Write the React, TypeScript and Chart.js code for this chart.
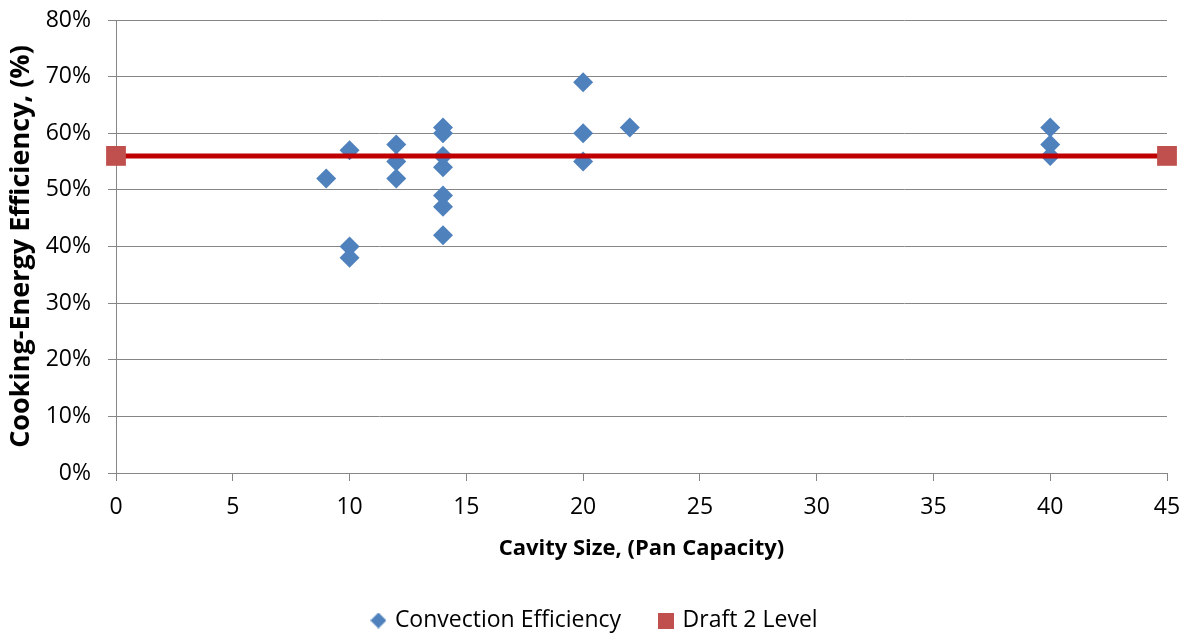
import React, { useEffect, useRef } from "react";
import { Chart, registerables } from "chart.js";

Chart.register(...registerables);

const cavitySizes = [9, 10, 10, 10, 12, 12, 12, 14, 14, 14, 14, 14, 14, 14, 20, 20, 20, 22, 40, 40, 40];
const efficiencies = [0.52, 0.57, 0.40, 0.38, 0.58, 0.55, 0.52, 0.61, 0.60, 0.56, 0.54, 0.49, 0.47, 0.42, 0.69, 0.60, 0.55, 0.61, 0.61, 0.58, 0.56];
const draftX = [0, 45];
const draftLevel = [0.56, 0.56];
const seriesNames = ["Convection Efficiency", "Draft 2 Level"];
const xTitle = "Cavity Size, (Pan Capacity)";
const yTitle = "Cooking-Energy Efficiency, (%)";

const FONT = "'Open Sans', Lato, sans-serif";

function makeIcon(kind: "diamond" | "square", color: string): HTMLCanvasElement {
  const c = document.createElement("canvas");
  c.width = 16;
  c.height = 16;
  const ctx = c.getContext("2d")!;
  ctx.fillStyle = color;
  ctx.beginPath();
  if (kind === "diamond") {
    ctx.moveTo(8, 0);
    ctx.lineTo(16, 8);
    ctx.lineTo(8, 16);
    ctx.lineTo(0, 8);
    ctx.closePath();
  } else {
    ctx.rect(0, 0, 16, 16);
  }
  ctx.fill();
  return c;
}

const legendShift = {
  id: "legendShift",
  afterLayout(chart: any) {
    const l = chart.legend;
    if (l) {
      l.left += 12;
      l.right += 12;
    }
  },
};

export default function App() {
  const ref = useRef<HTMLCanvasElement | null>(null);
  useEffect(() => {
    document.body.style.margin = "0";
    const canvas = ref.current;
    if (!canvas) return;
    const icons = [makeIcon("diamond", "#4F81BD"), makeIcon("square", "#C0504D")];
    const chart = new Chart(canvas, {
      type: "scatter",
      plugins: [legendShift],
      data: {
        datasets: [
          {
            label: seriesNames[0],
            data: cavitySizes.map((x, i) => ({ x, y: efficiencies[i] })),
            pointStyle: "rectRot",
            pointRadius: 10,
            pointBackgroundColor: "#4F81BD",
            pointBorderColor: "#4F81BD",
            pointBorderWidth: 0,
            backgroundColor: "#4F81BD",
            borderColor: "#4F81BD",
            showLine: false,
            order: 1,
          },
          {
            label: seriesNames[1],
            data: draftX.map((x, i) => ({ x, y: draftLevel[i] })),
            showLine: true,
            borderColor: "#C00000",
            borderWidth: 5,
            pointStyle: "rect",
            pointRadius: 14,
            pointBackgroundColor: "#C0504D",
            pointBorderColor: "#C0504D",
            pointBorderWidth: 0,
            backgroundColor: "#C0504D",
            order: 0,
            clip: false as any,
          },
        ],
      },
      options: {
        animation: false,
        responsive: false,
        maintainAspectRatio: false,
        layout: { padding: { left: 0, right: 23, top: 20, bottom: -6 } },
        plugins: {
          tooltip: { enabled: false },
          legend: {
            position: "bottom",
            labels: {
              usePointStyle: true,
              color: "#000",
              font: { family: FONT, size: 23 },
              padding: 40,
              boxWidth: 10,
              boxHeight: 16,
              pointStyleWidth: 10,
              sort: (a: any, b: any) => a.datasetIndex - b.datasetIndex,
              generateLabels: (ch: any) => {
                const items = Chart.defaults.plugins.legend.labels.generateLabels(ch);
                return items.map((it: any) => ({ ...it, pointStyle: icons[it.datasetIndex], lineWidth: 0 }));
              },
            },
          },
        },
        scales: {
          x: {
            type: "linear",
            min: 0,
            max: 45,
            afterFit: (s: any) => {
              s.height = 96;
              s.paddingLeft = 0;
              s.paddingRight = 0;
            },
            ticks: { stepSize: 5, color: "#000", font: { family: FONT, size: 23 }, padding: 13 },
            grid: { drawOnChartArea: false, drawTicks: true, tickLength: 8, color: "#868686" },
            border: { color: "#868686", width: 1 },
            title: {
              display: true,
              text: xTitle,
              color: "#000",
              font: { family: FONT, size: 22, weight: "bold" },
              padding: { top: 10, bottom: 7 },
            },
          },
          y: {
            type: "linear",
            min: 0,
            max: 0.8,
            afterFit: (s: any) => {
              s.width = 116;
              s.paddingTop = 0;
              s.paddingBottom = 0;
            },
            ticks: {
              stepSize: 0.1,
              color: "#000",
              font: { family: FONT, size: 23 },
              padding: 17,
              callback: (v: any) => Math.round(Number(v) * 100) + "%",
            },
            grid: { drawOnChartArea: true, drawTicks: true, tickLength: 8, color: "#868686" },
            border: { color: "#868686", width: 1 },
            title: {
              display: true,
              text: yTitle,
              color: "#000",
              font: { family: FONT, size: 27, weight: "bold" },
              padding: { top: 5, bottom: 0 },
            },
          },
        },
      },
    });
    return () => chart.destroy();
  }, []);
  return <canvas ref={ref} width={1190} height={636} style={{ display: "block" }} />;
}
